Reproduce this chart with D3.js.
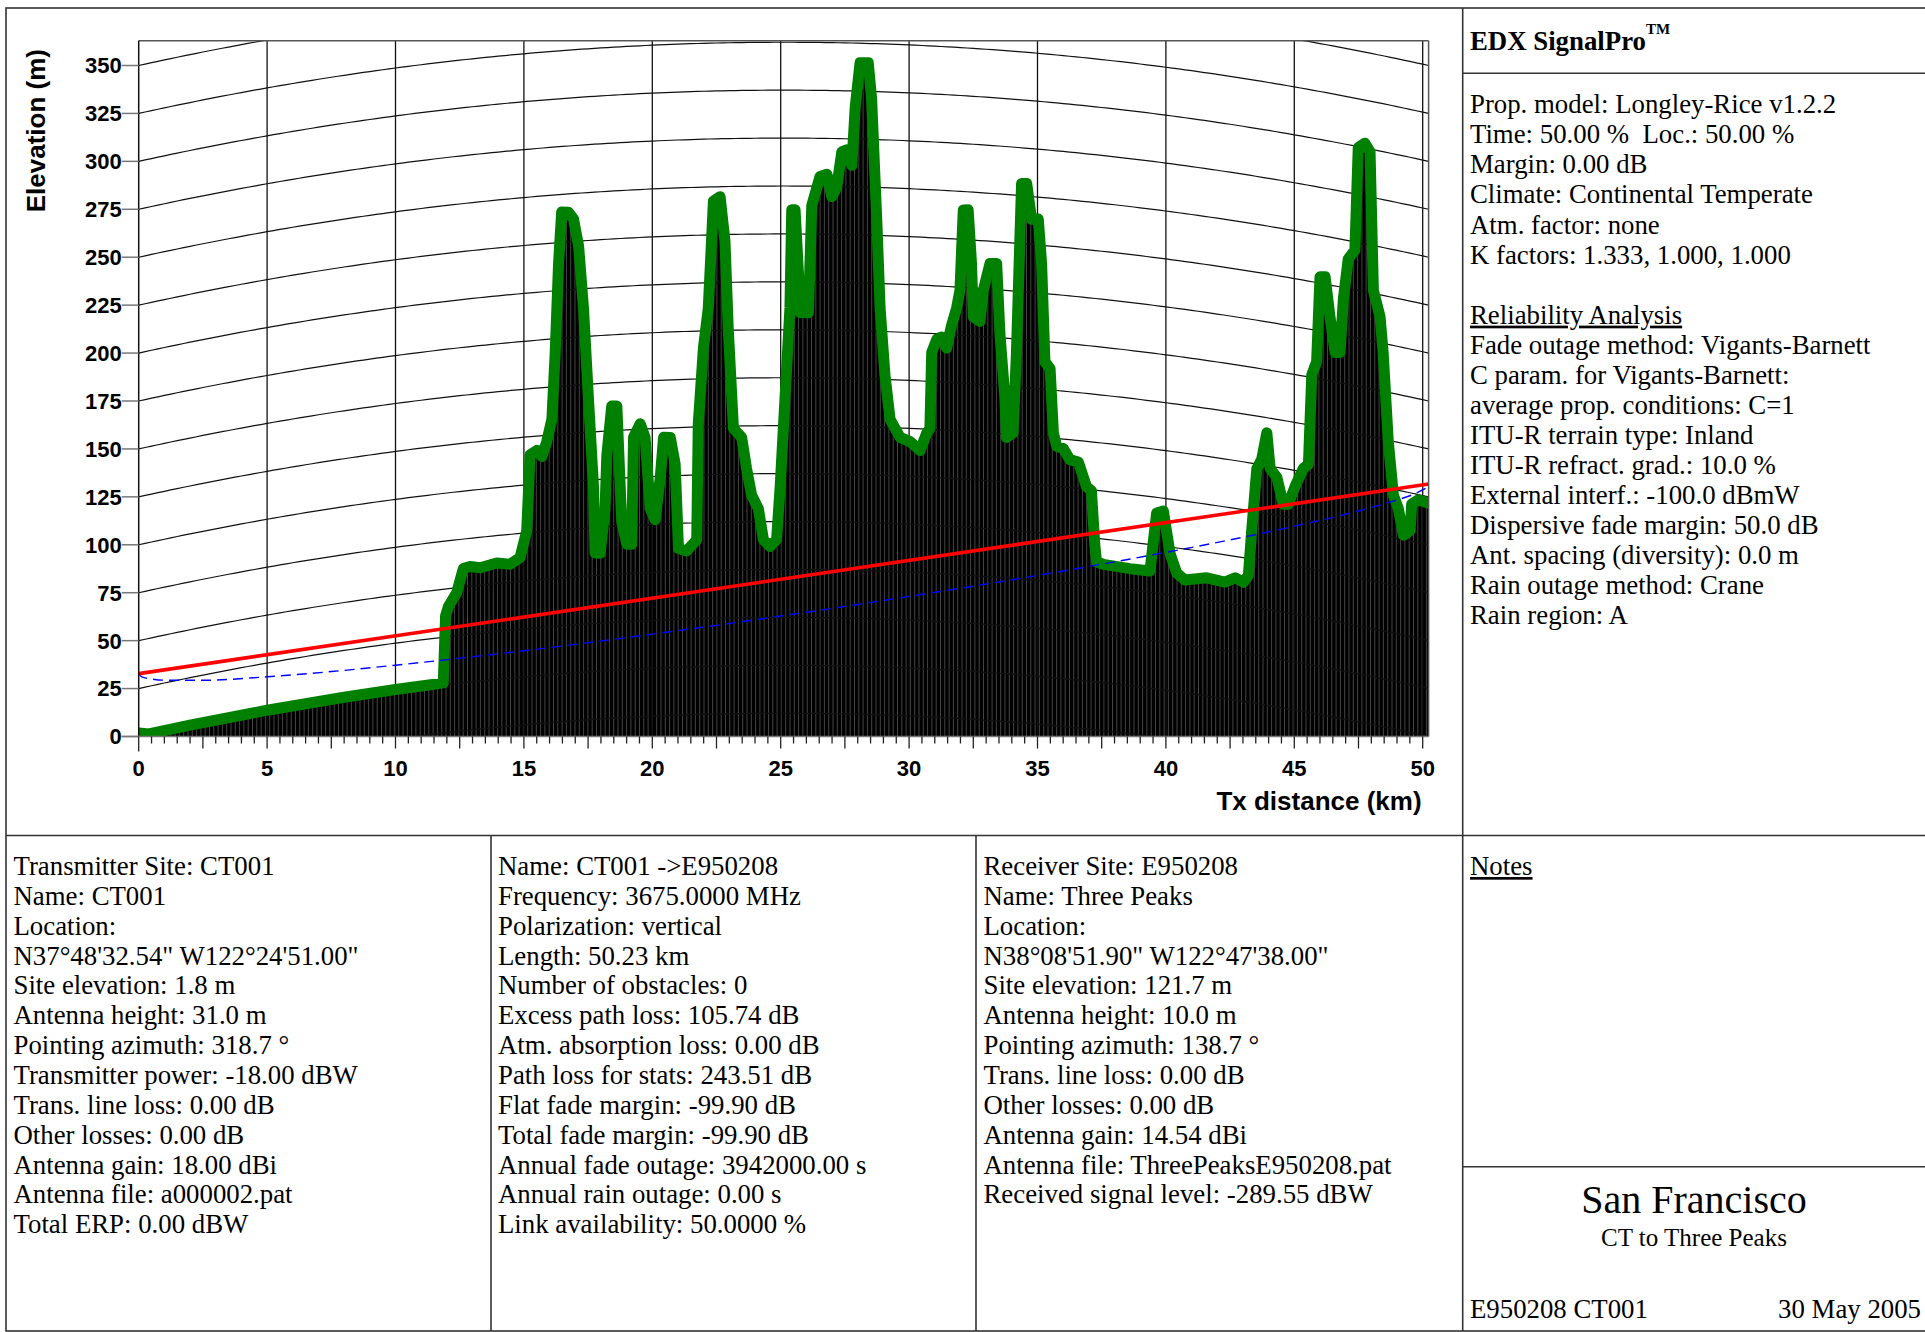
<!DOCTYPE html>
<html>
<head>
<meta charset="utf-8">
<script src="https://cdn.jsdelivr.net/npm/d3@7"></script>
<style>
html,body{margin:0;padding:0;background:#fff;}
svg{display:block;}
text{white-space:pre;}
</style>
</head>
<body>
<svg id="chart" width="1925" height="1332"></svg>
<script>
// ---------------- DATA ----------------
const pathLengthKm = 50.23;
const kFactor = 1.333;
const earthRadiusKm = 6371;
const txAntennaTop = 1.8 + 31.0;   // site elevation + antenna height (m)
const rxAntennaTop = 121.7 + 10.0; // site elevation + antenna height (m)

// terrain profile: distance (km) and ground elevation (m)
const terrainKm = [0,0.4,2,5,8,10,11.3,11.86,11.95,12.06,12.38,12.64,12.9,13.3,13.94,14.46,14.85,15.11,15.24,15.5,15.7,15.89,16.09,16.22,16.35,16.47,16.73,16.93,17.13,17.32,17.51,17.71,17.77,17.97,18.16,18.23,18.42,18.62,18.75,18.81,19.01,19.2,19.27,19.53,19.72,19.92,20.11,20.31,20.44,20.7,20.89,21.02,21.34,21.73,21.79,21.99,22.18,22.38,22.64,22.83,22.96,23.16,23.48,23.67,23.87,24.13,24.33,24.58,24.84,24.98,25.17,25.36,25.43,25.56,25.69,25.76,26.08,26.21,26.53,26.8,26.99,27.18,27.38,27.57,27.77,27.9,28.09,28.41,28.54,28.74,28.87,29.06,29.26,29.65,30.04,30.43,30.69,30.81,30.88,31.08,31.26,31.46,31.65,31.85,31.98,32.11,32.3,32.43,32.5,32.76,32.89,33.15,33.41,33.54,33.73,33.79,34.05,34.18,34.38,34.58,34.77,35.03,35.16,35.29,35.49,35.62,35.75,36.0,36.26,36.59,36.91,37.1,37.23,37.3,37.56,38.6,39.38,39.64,39.9,40.16,40.42,40.74,41.59,42.3,42.7,43.02,43.21,43.34,43.54,43.73,43.93,44.06,44.32,44.57,44.77,45.03,45.35,45.55,45.68,45.87,46.0,46.2,46.39,46.59,46.78,46.91,47.1,47.36,47.49,47.75,47.95,48.08,48.34,48.46,48.66,48.86,49.05,49.25,49.51,49.57,49.83,50.23];
const terrainElev = [1.8,0.2,0.3,0.4,0.6,0.8,1.0,1.2,36,40.7,47.3,59.6,60.3,59.1,60.7,59.4,62.4,76.1,115.5,117.5,114.1,121.7,133.1,167.9,214.2,240.8,240.5,236.8,222.6,190,143.3,96.6,61.7,61.5,84.6,112.5,137.9,137.7,95.7,77.1,65.4,65.2,121,127.8,120.6,83.3,77.4,99.4,120.2,120,106,61.9,60.5,66.1,126.5,166,186.8,242.6,244.8,221.6,175,123.8,119,102.8,88.8,81.8,65.5,62,65.5,93.4,139.9,186.4,237.6,237.6,205,184.1,183.9,239.9,255.1,256.3,244.7,249.4,268.1,269.2,261.2,291.4,314.8,314.9,296.3,233.6,187.2,152.4,129.3,120.1,118.1,113.7,123.1,125.5,165.1,172.2,173.5,167.9,179.6,189,198.4,240.4,240.6,212.8,184.9,182.8,199.2,213.4,213.6,176.5,144.1,123.3,125.9,167.9,256.4,256.6,238.2,238.6,215.5,164.4,161.1,127.6,120.8,120.1,114.6,113.8,101.3,99.5,71.8,62.6,61.8,61.1,61.2,91.9,93.4,71.8,61.9,58.9,61.6,60.8,63.9,62.2,66.1,89.7,122.6,127.8,142.1,123.8,119.8,106.3,106.8,116.7,126.8,129.5,176.4,183.8,228.3,228.8,208.4,190.3,190.8,219,240.4,245.7,299.5,302.5,298.5,226.7,213.5,195.3,149.3,121.9,115.5,102.1,105.2,119.3,122.3,121.7];

// 60% first Fresnel zone clearance below the line of sight (m)
const fresnelKm = [0,0.1,0.25,0.5,1,2.5,5,7.5,10,15,20,25,30,35,40,42.5,45,47.5,49,49.5,49.73,49.98,50.13,50.23];
const fresnelDrop = [0,1.7,2.7,3.8,5.4,8.4,11.5,13.7,15.3,17.6,18.8,19.2,18.8,17.7,15.5,13.9,11.7,8.7,5.9,4.7,3.9,2.7,1.7,0];

const yTicks = [0,25,50,75,100,125,150,175,200,225,250,275,300,325,350];
const xTicks = [0,5,10,15,20,25,30,35,40,45,50];

const infoTitle = "EDX SignalPro";
const infoLines = [
  "Prop. model: Longley-Rice v1.2.2",
  "Time: 50.00 %  Loc.: 50.00 %",
  "Margin: 0.00 dB",
  "Climate: Continental Temperate",
  "Atm. factor: none",
  "K factors: 1.333, 1.000, 1.000",
  "",
  "Reliability Analysis",
  "Fade outage method: Vigants-Barnett",
  "C param. for Vigants-Barnett:",
  "average prop. conditions: C=1",
  "ITU-R terrain type: Inland",
  "ITU-R refract. grad.: 10.0 %",
  "External interf.: -100.0 dBmW",
  "Dispersive fade margin: 50.0 dB",
  "Ant. spacing (diversity): 0.0 m",
  "Rain outage method: Crane",
  "Rain region: A"
];
const txLines = [
  "Transmitter Site: CT001","Name: CT001","Location:","N37°48'32.54\" W122°24'51.00\"",
  "Site elevation: 1.8 m","Antenna height: 31.0 m","Pointing azimuth: 318.7 °",
  "Transmitter power: -18.00 dBW","Trans. line loss: 0.00 dB","Other losses: 0.00 dB",
  "Antenna gain: 18.00 dBi","Antenna file: a000002.pat","Total ERP: 0.00 dBW"
];
const linkLines = [
  "Name: CT001 ->E950208","Frequency: 3675.0000 MHz","Polarization: vertical","Length: 50.23 km",
  "Number of obstacles: 0","Excess path loss: 105.74 dB","Atm. absorption loss: 0.00 dB",
  "Path loss for stats: 243.51 dB","Flat fade margin: -99.90 dB","Total fade margin: -99.90 dB",
  "Annual fade outage: 3942000.00 s","Annual rain outage: 0.00 s","Link availability: 50.0000 %"
];
const rxLines = [
  "Receiver Site: E950208","Name: Three Peaks","Location:","N38°08'51.90\" W122°47'38.00\"",
  "Site elevation: 121.7 m","Antenna height: 10.0 m","Pointing azimuth: 138.7 °",
  "Trans. line loss: 0.00 dB","Other losses: 0.00 dB","Antenna gain: 14.54 dBi",
  "Antenna file: ThreePeaksE950208.pat","Received signal level: -289.55 dBW"
];
const titleMain = "San Francisco";
const titleSub = "CT to Three Peaks";
const footerLeft = "E950208 CT001";
const footerRight = "30 May 2005";

// ---------------- DRAW ----------------
const svg = d3.select("#chart");
const SERIF = "'Liberation Serif','Times New Roman',serif";
const SANS = "'Liberation Sans',Arial,sans-serif";
const BODY = 26.8;

const plotL = 138.7, plotR = 1428.6, plotT = 40.7, plotB = 736.5;
const x = d3.scaleLinear().domain([0, pathLengthKm]).range([plotL, plotR]);
const y = d3.scaleLinear().domain([0, 350]).range([plotB, 65.5]);

// earth bulge (m) for effective earth radius
const bulge = d => d * (pathLengthKm - d) * 1000 / (2 * kFactor * earthRadiusKm);
const yAt = (h, d) => y(h + bulge(d));

const defs = svg.append("defs");
defs.append("clipPath").attr("id","plotClip").append("rect")
  .attr("x", plotL).attr("y", plotT).attr("width", plotR - plotL).attr("height", plotB - plotT);

const terrain = terrainKm.map((d,i) => ({d, h: terrainElev[i]}));
const areaGen = d3.area().x(p => x(p.d)).y0(plotB).y1(p => yAt(p.h, p.d));
defs.append("clipPath").attr("id","terrClip").append("path").attr("d", areaGen(terrain));

const plot = svg.append("g").attr("clip-path","url(#plotClip)");

// terrain fill
plot.append("path").attr("d", areaGen(terrain)).attr("fill","#000");
// stem texture
const tex = plot.append("g").attr("clip-path","url(#terrClip)");
tex.selectAll("line").data(d3.range(plotL + 2, plotR, 4.3)).join("line")
  .attr("x1", v => v).attr("x2", v => v).attr("y1", plotT).attr("y2", plotB)
  .attr("stroke","#555").attr("stroke-width",0.8);

// curved elevation grid lines
const gridSamples = d3.range(0, pathLengthKm, 0.25).concat([pathLengthKm]);
[-25].concat(yTicks, [375]).forEach(v => {
  const ln = d3.line().x(d => x(d)).y(d => yAt(v, d));
  plot.append("path").attr("d", ln(gridSamples)).attr("fill","none")
    .attr("stroke","#111").attr("stroke-width",1.2);
});
// vertical grid lines
plot.selectAll(".vg").data(xTicks.filter(t => t > 0)).join("line")
  .attr("x1", d => x(d)).attr("x2", d => x(d)).attr("y1", plotT).attr("y2", plotB)
  .attr("stroke","#111").attr("stroke-width",1.3);

// terrain outline (green)
plot.append("path").attr("d", d3.line().x(p => x(p.d)).y(p => yAt(p.h, p.d))(terrain))
  .attr("fill","none").attr("stroke","#008000").attr("stroke-width",11)
  .attr("stroke-linejoin","round").attr("stroke-linecap","round");

// Fresnel clearance (blue dashed)
const losAt = d => txAntennaTop + (rxAntennaTop - txAntennaTop) * d / pathLengthKm;
const fres = fresnelKm.map((d,i) => ({d, v: losAt(d) - fresnelDrop[i]}));
plot.append("path").attr("d", d3.line().curve(d3.curveMonotoneX).x(p => x(p.d)).y(p => y(p.v))(fres))
  .attr("fill","none").attr("stroke","#0000ff").attr("stroke-width",1.4).attr("stroke-dasharray","10,6");

// line of sight (red)
plot.append("line").attr("x1", x(0)).attr("y1", y(txAntennaTop))
  .attr("x2", x(pathLengthKm)).attr("y2", y(rxAntennaTop))
  .attr("stroke","#ff0000").attr("stroke-width",3.6);

// plot frame
svg.append("line").attr("x1", plotL).attr("x2", plotR).attr("y1", plotT).attr("y2", plotT)
  .attr("stroke","#555").attr("stroke-width",1.5);
svg.append("line").attr("x1", plotL).attr("x2", plotL).attr("y1", plotT).attr("y2", plotB)
  .attr("stroke","#111").attr("stroke-width",1.5);
svg.append("line").attr("x1", plotR).attr("x2", plotR).attr("y1", plotT).attr("y2", plotB)
  .attr("stroke","#555").attr("stroke-width",1.5);
svg.append("line").attr("x1", plotL - 17).attr("x2", plotR).attr("y1", plotB).attr("y2", plotB)
  .attr("stroke","#777").attr("stroke-width",1.5);

// y ticks & labels
const yAxisG = svg.append("g");
yAxisG.selectAll("line").data(yTicks).join("line")
  .attr("x1", plotL - 17).attr("x2", plotL).attr("y1", d => y(d)).attr("y2", d => y(d))
  .attr("stroke","#777").attr("stroke-width",1.5);
yAxisG.selectAll("text").data(yTicks).join("text")
  .attr("x", plotL - 17).attr("y", d => y(d)).attr("dy","0.36em")
  .attr("text-anchor","end").attr("font-family",SANS).attr("font-weight","bold")
  .attr("font-size",22).text(d => d);

// x ticks & labels
const minor = d3.range(0, 50.001, 0.5);
svg.append("g").selectAll("line").data(minor).join("line")
  .attr("x1", d => x(d)).attr("x2", d => x(d)).attr("y1", plotB)
  .attr("y2", d => plotB + (d === 0 ? 15 : (Math.abs(d / 2.5 - Math.round(d / 2.5)) < 1e-6 ? 12 : 7)))
  .attr("stroke","#222").attr("stroke-width",1.3);
svg.append("g").selectAll("text").data(xTicks).join("text")
  .attr("x", d => x(d)).attr("y", 776).attr("text-anchor","middle")
  .attr("font-family",SANS).attr("font-weight","bold").attr("font-size",22).text(d => d);

// axis titles
svg.append("text").attr("x", plotR - 7).attr("y", 810).attr("text-anchor","end")
  .attr("font-family",SANS).attr("font-weight","bold").attr("font-size",26).text("Tx distance (km)");
svg.append("text").attr("transform","translate(45,49) rotate(-90)").attr("text-anchor","end")
  .attr("font-family",SANS).attr("font-weight","bold").attr("font-size",26).text("Elevation (m)");

// ---------------- FRAMES ----------------
const frame = svg.append("g").attr("stroke","#333").attr("stroke-width",1.6).attr("fill","none");
frame.append("rect").attr("x",6).attr("y",8).attr("width",1925).attr("height",1323);
frame.append("line").attr("x1",1462.7).attr("x2",1462.7).attr("y1",8).attr("y2",1331);
frame.append("line").attr("x1",6).attr("x2",1925).attr("y1",835.5).attr("y2",835.5);
frame.append("line").attr("x1",1462.7).attr("x2",1925).attr("y1",73.3).attr("y2",73.3);
frame.append("line").attr("x1",1462.7).attr("x2",1925).attr("y1",1166.7).attr("y2",1166.7);
frame.append("line").attr("x1",491).attr("x2",491).attr("y1",835.5).attr("y2",1331);
frame.append("line").attr("x1",976).attr("x2",976).attr("y1",835.5).attr("y2",1331);

// ---------------- TEXT PANELS ----------------
const t = svg.append("text").attr("x",1470).attr("y",50).attr("font-family",SERIF)
  .attr("font-weight","bold").attr("font-size",BODY);
t.append("tspan").text(infoTitle);
t.append("tspan").attr("font-size",15).attr("dy",-16).text("TM");

function block(lines, x0, y0, lh, underlineIdx) {
  const g = svg.append("g").attr("font-family",SERIF).attr("font-size",BODY).attr("fill","#000");
  lines.forEach((s, i) => {
    if (!s) return;
    const tx = g.append("text").attr("x", x0).attr("y", y0 + i * lh).attr("xml:space","preserve").text(s);
    if (underlineIdx && underlineIdx.includes(i)) tx.style("text-decoration","underline");
  });
}
block(infoLines, 1470, 113.3, 30.05, [7]);
block(txLines, 13.5, 875, 29.85);
block(linkLines, 498, 875, 29.85);
block(rxLines, 983.5, 875, 29.85);
block(["Notes"], 1470, 875, 29.85, [0]);

svg.append("text").attr("x",1694).attr("y",1213).attr("text-anchor","middle")
  .attr("font-family",SERIF).attr("font-size",40).text(titleMain);
svg.append("text").attr("x",1694).attr("y",1246).attr("text-anchor","middle")
  .attr("font-family",SERIF).attr("font-size",25).text(titleSub);
svg.append("text").attr("x",1470).attr("y",1318)
  .attr("font-family",SERIF).attr("font-size",BODY).text(footerLeft);
svg.append("text").attr("x",1921).attr("y",1318).attr("text-anchor","end")
  .attr("font-family",SERIF).attr("font-size",BODY).text(footerRight);
</script>
</body>
</html>
